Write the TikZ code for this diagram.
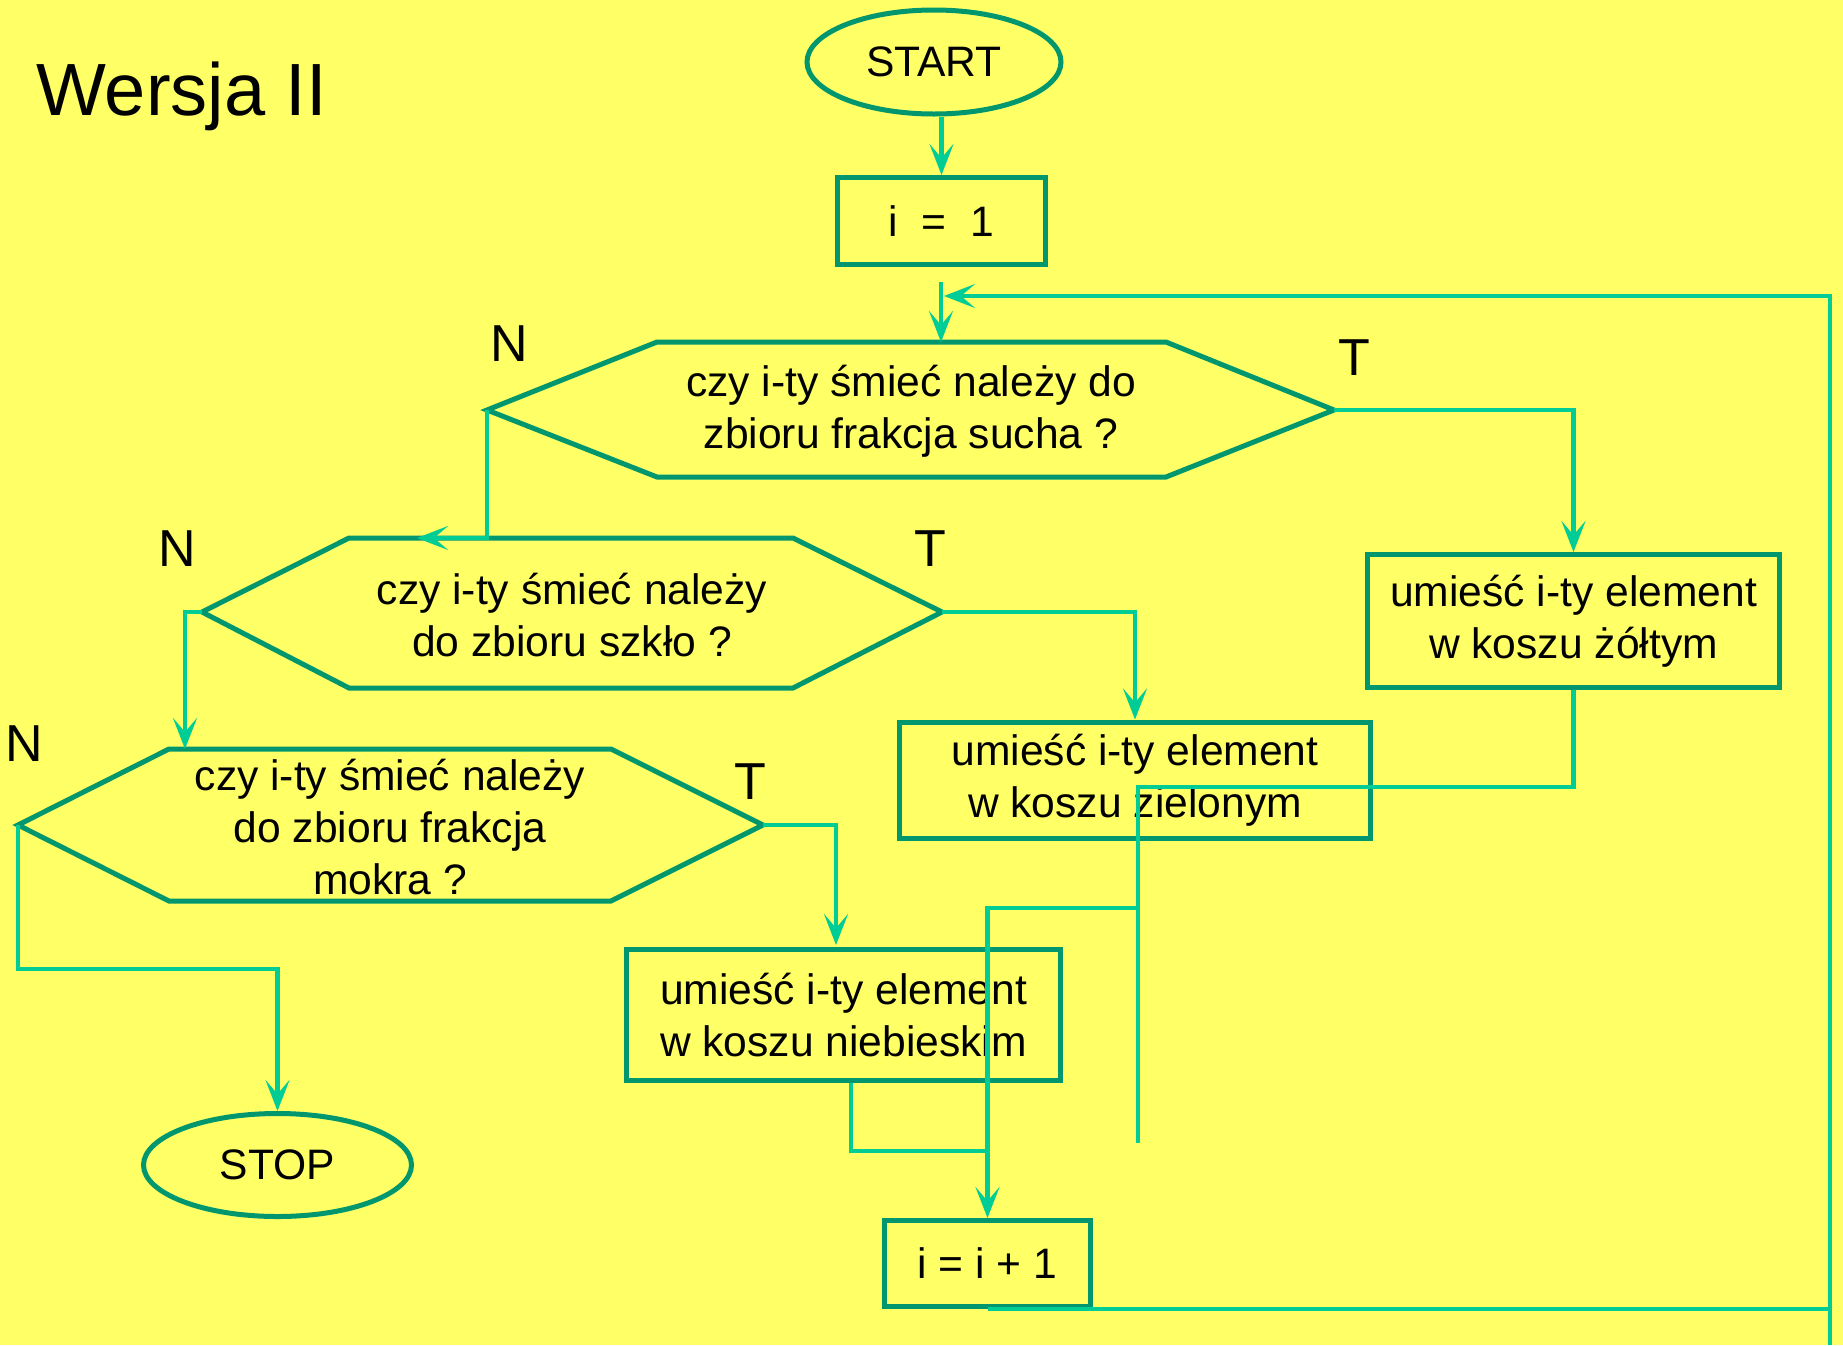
\documentclass[tikz,border=0pt]{standalone}
\usepackage{fontspec}
\setmainfont{Liberation Sans}
\usetikzlibrary{arrows.meta,shapes.geometric}

\definecolor{sheet}{HTML}{FFFF66}
\definecolor{edgegreen}{HTML}{00966E}
\definecolor{flowgreen}{HTML}{00CC96}

\begin{document}
\begin{tikzpicture}[x=0.5pt,y=-0.5pt,
  txt/.style={font=\fontsize{21.3}{26}\selectfont, align=center, inner sep=0pt},
  stepbox/.style={txt, draw=edgegreen, line width=2.5pt, rectangle},
  term/.style={txt, draw=edgegreen, line width=2.5pt, ellipse},
  hexline/.style={draw=edgegreen, line width=2.5pt},
  wire/.style={draw=flowgreen, line width=2.3pt},
  go/.style={wire, -{Stealth[length=15.5pt,width=12pt,inset=7pt]}},
  lbl/.style={font=\fontsize{26}{30}\selectfont, inner sep=0pt},
]
% sheet
\fill[sheet] (0,0) rectangle (1843,1345);
\useasboundingbox (0,0) rectangle (1843,1345);

% title
\node[anchor=base west, inner sep=0pt, font=\fontsize{37}{44}\selectfont] (title) at (36,115) {Wersja II};

% terminals and process boxes
\node[term, minimum width=127pt, minimum height=52pt] (start) at (934,62) {START};
\node[stepbox, minimum width=104pt, minimum height=43.5pt] (init) at (941.5,221) {i\ \ =\ \ 1};
\node[stepbox, minimum width=206pt, minimum height=66.5pt] (yel) at (1573.5,621) {umieść i-ty element\\w koszu żółtym};
\node[stepbox, minimum width=235.5pt, minimum height=58pt] (grn) at (1135,780) {umieść i-ty element\\w koszu zielonym};
\node[stepbox, minimum width=217pt, minimum height=65.5pt] (blu) at (843.5,1015) {umieść i-ty element\\w koszu niebieskim};
\node[stepbox, minimum width=103pt, minimum height=43pt] (inc) at (987.5,1263.5) {i = i + 1};
\node[term, minimum width=134pt, minimum height=51.5pt] (stop) at (277.5,1165) {STOP};

% decision 1: dry fraction
\coordinate (h1L) at (487,410);  \coordinate (h1TL) at (657,342);
\coordinate (h1TR) at (1166,342); \coordinate (h1R) at (1334,410);
\coordinate (h1BR) at (1166,477); \coordinate (h1BL) at (657,477);
\draw[hexline] (h1L) -- (h1TL) -- (h1TR) -- (h1R) -- (h1BR) -- (h1BL) -- cycle;
\node[txt] (q1) at (911,411) {czy i-ty śmieć należy do\\zbioru frakcja sucha ?};

% decision 2: glass
\coordinate (h2L) at (202,612);  \coordinate (h2TL) at (349,538);
\coordinate (h2TR) at (793,538); \coordinate (h2R) at (942,612);
\coordinate (h2BR) at (793,688); \coordinate (h2BL) at (349,688);
\draw[hexline] (h2L) -- (h2TL) -- (h2TR) -- (h2R) -- (h2BR) -- (h2BL) -- cycle;
\node[txt] (q2) at (572,615) {czy i-ty śmieć należy\\do zbioru szkło ?};

% decision 3: wet fraction
\coordinate (h3L) at (18,825);  \coordinate (h3TL) at (169,749);
\coordinate (h3TR) at (611,749); \coordinate (h3R) at (763,825);
\coordinate (h3BR) at (611,901); \coordinate (h3BL) at (169,901);
\draw[hexline] (h3L) -- (h3TL) -- (h3TR) -- (h3R) -- (h3BR) -- (h3BL) -- cycle;
\node[txt] (q3) at (390,827) {czy i-ty śmieć należy\\do zbioru frakcja\\mokra ?};

% branch labels
\node[lbl] (n1) at (509,344) {N};
\node[lbl] (t1) at (1354,358) {T};
\node[lbl] (n2) at (177,549) {N};
\node[lbl] (t2) at (930,549) {T};
\node[lbl] (n3) at (24,744) {N};
\node[lbl] (t3) at (750,782) {T};

% auxiliary points of the connectors
\coordinate (loopin) at (941,282);
\coordinate (railtop) at (1830,296);
\coordinate (railbot) at (1830,1345);
\coordinate (looptip) at (944,296);
\coordinate (n1end) at (417,538);
\coordinate (n2end) at (185,749);
\coordinate (t3end) at (836,945);
\coordinate (yj) at (1138,787);
\coordinate (ydrop) at (1138,1143);
\coordinate (yb) at (1138,908);
\coordinate (bj) at (987,1151);

% connectors
\draw[go] (init.north |- start.south) -- (init.north);
\draw[go] (loopin) -- (loopin |- h1TL);
\draw[go] (h1R) -| (yel.north);
\draw[go] (h1L) |- (n1end);
\draw[go] (h2R) -| (grn.north);
\draw[go] (h2L) -| (n2end);
\draw[go] (h3R) -| (t3end);
\draw[go] (h3L) -- ++(0,144) -| (stop.north);
\draw[wire] (yel.south) |- (yj) -- (ydrop);
\draw[go] (yb) -| (inc.north);
\draw[wire] ([xshift=3.75pt]blu.south) |- (bj);
\draw[wire] (inc.south) -- (inc.south -| railbot);
\draw[go] (railbot) -- (railtop) -- (looptip);
\end{tikzpicture}
\end{document}
